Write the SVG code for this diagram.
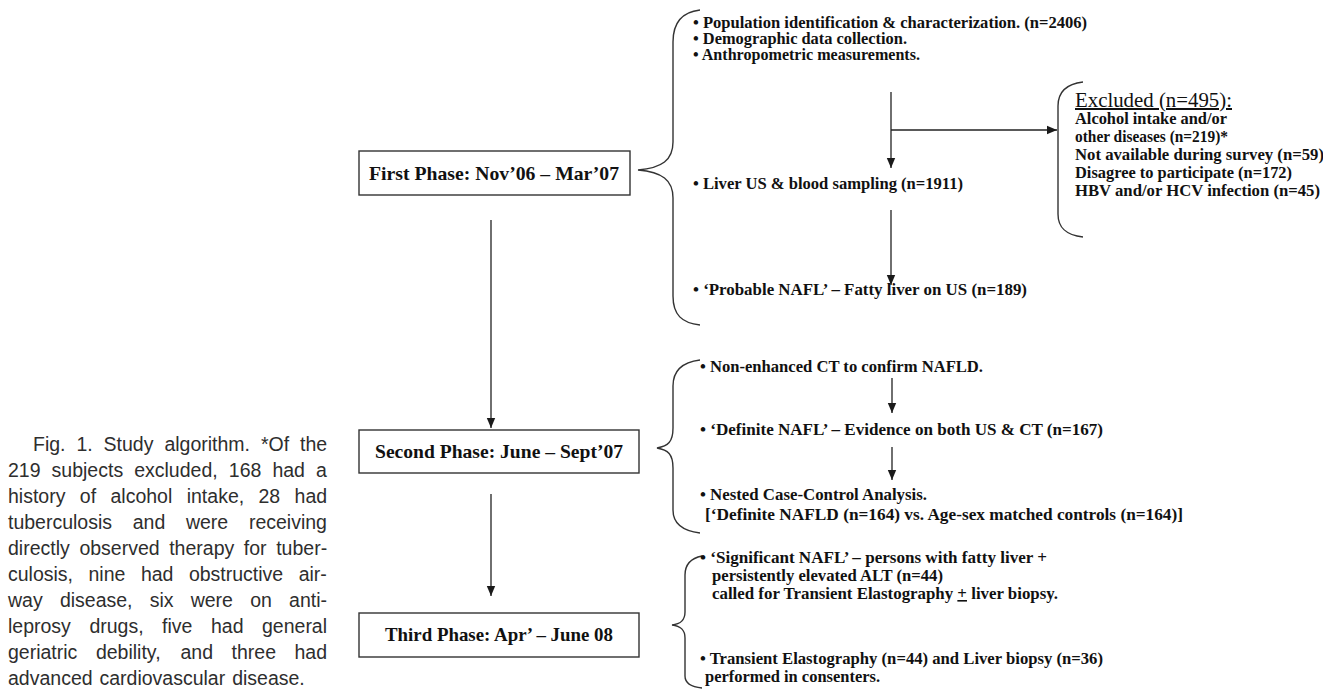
<svg xmlns="http://www.w3.org/2000/svg" width="1323" height="691" viewBox="0 0 1323 691">
<defs>
<marker id="ah" markerUnits="userSpaceOnUse" markerWidth="10" markerHeight="10" refX="10" refY="5" orient="auto">
<path d="M0,0.8 L10,5 L0,9.2 Z" fill="#1a1a1a"/>
</marker>
<style>
.bx{fill:#fff;stroke:#333;stroke-width:1.4}
.bt{font-family:"Liberation Serif",serif;font-weight:bold;font-size:19px;fill:#111;text-anchor:middle}
.t{font-family:"Liberation Serif",serif;font-weight:bold;font-size:16px;fill:#111}
.ex{font-family:"Liberation Serif",serif;font-size:20px;fill:#111;text-decoration:underline}
.br{fill:none;stroke:#333;stroke-width:1.4}
.ln{fill:none;stroke:#222;stroke-width:1.3}
.cap{font-family:"Liberation Sans",sans-serif;font-size:19.5px;fill:#2e2e2e}
</style>
</defs>
<rect width="1323" height="691" fill="#fff"/>

<g id="caption">
<text class="cap" y="451"><tspan x="33">Fig.</tspan><tspan x="76.4">1.</tspan><tspan x="103.6">Study</tspan><tspan x="164.4">algorithm.</tspan><tspan x="260.9">*Of</tspan><tspan x="300">the</tspan></text>
<text class="cap" y="477"><tspan x="8">219</tspan><tspan x="51.6">subjects</tspan><tspan x="134.2">excluded,</tspan><tspan x="228.8">168</tspan><tspan x="272.4">had</tspan><tspan x="316">a</tspan></text>
<text class="cap" y="503"><tspan x="8">history</tspan><tspan x="79.8">of</tspan><tspan x="110.5">alcohol</tspan><tspan x="186.7">intake,</tspan><tspan x="258.5">28</tspan><tspan x="294.6">had</tspan></text>
<text class="cap" y="529"><tspan x="8">tuberculosis</tspan><tspan x="132.7">and</tspan><tspan x="185.9">were</tspan><tspan x="248.9">receiving</tspan></text>
<text class="cap" y="555"><tspan x="8">directly</tspan><tspan x="79.4">observed</tspan><tspan x="169.2">therapy</tspan><tspan x="243.8">for</tspan><tspan x="276.2">tuber-</tspan></text>
<text class="cap" y="581"><tspan x="8">culosis,</tspan><tspan x="88.5">nine</tspan><tspan x="140.9">had</tspan><tspan x="188.9">obstructive</tspan><tspan x="298.7">air-</tspan></text>
<text class="cap" y="607"><tspan x="8">way</tspan><tspan x="59.9">disease,</tspan><tspan x="149.7">six</tspan><tspan x="190.7">were</tspan><tspan x="250.2">on</tspan><tspan x="289.1">anti-</tspan></text>
<text class="cap" y="633"><tspan x="8">leprosy</tspan><tspan x="89.4">drugs,</tspan><tspan x="162.1">five</tspan><tspan x="211">had</tspan><tspan x="262">general</tspan></text>
<text class="cap" y="659"><tspan x="8">geriatric</tspan><tspan x="95.9">debility,</tspan><tspan x="180.5">and</tspan><tspan x="231.6">three</tspan><tspan x="294.5">had</tspan></text>
<text class="cap" x="8" y="685" word-spacing="1.5">advanced cardiovascular disease.</text>
</g>

<g id="phase1">
<rect class="bx" x="359" y="151" width="271" height="44"/>
<text class="bt" x="494" y="180" textLength="250" lengthAdjust="spacingAndGlyphs">First Phase: Nov’06 – Mar’07</text>
</g>
<g id="phase2">
<rect class="bx" x="359" y="430" width="280" height="43"/>
<text class="bt" x="499" y="458" textLength="248" lengthAdjust="spacingAndGlyphs">Second Phase: June – Sept’07</text>
</g>
<g id="phase3">
<rect class="bx" x="359" y="613" width="280" height="44"/>
<text class="bt" x="499" y="641" textLength="228" lengthAdjust="spacingAndGlyphs">Third Phase: Apr’ – June 08</text>
</g>

<g id="phase1-details">
<path class="br" d="M700,10 C682,12 673,22 673,42 L673,142 C673,160 662,168 638,170 C662,172 673,180 673,198 L673,296 C673,315 682,323 700,325"/>
<text class="t" x="693" y="28" textLength="394" lengthAdjust="spacingAndGlyphs">• Population identification &amp; characterization. (n=2406)</text>
<text class="t" x="693" y="44" textLength="214" lengthAdjust="spacingAndGlyphs">• Demographic data collection.</text>
<text class="t" x="693" y="60" textLength="227" lengthAdjust="spacingAndGlyphs">• Anthropometric measurements.</text>
<text class="t" x="693" y="189" textLength="270" lengthAdjust="spacingAndGlyphs">• Liver US &amp; blood sampling (n=1911)</text>
<text class="t" x="693" y="295" textLength="334" lengthAdjust="spacingAndGlyphs">• ‘Probable NAFL’ – Fatty liver on US (n=189)</text>
</g>

<g id="excluded">
<path class="br" d="M1083,82 C1066,84 1058,92 1058,106 L1058,214 C1058,228 1066,235 1083,237"/>
<text class="ex" x="1075" y="107" textLength="157" lengthAdjust="spacingAndGlyphs">Excluded (n=495):</text>
<text class="t" x="1075" y="124" textLength="152" lengthAdjust="spacingAndGlyphs">Alcohol intake and/or</text>
<text class="t" x="1075" y="142" textLength="153" lengthAdjust="spacingAndGlyphs">other diseases (n=219)*</text>
<text class="t" x="1075" y="160" textLength="249" lengthAdjust="spacingAndGlyphs">Not available during survey (n=59)</text>
<text class="t" x="1075" y="178" textLength="217" lengthAdjust="spacingAndGlyphs">Disagree to participate (n=172)</text>
<text class="t" x="1075" y="196" textLength="245" lengthAdjust="spacingAndGlyphs">HBV and/or HCV infection (n=45)</text>
</g>

<g id="phase2-details">
<path class="br" d="M700,360 C684,362 673,370 673,386 L673,428 C673,442 668,446 657,448 C668,450 673,454 673,468 L673,510 C673,524 684,531 700,533"/>
<text class="t" x="700" y="372" textLength="283" lengthAdjust="spacingAndGlyphs">• Non-enhanced CT to confirm NAFLD.</text>
<text class="t" x="700" y="435" textLength="403" lengthAdjust="spacingAndGlyphs">• ‘Definite NAFL’ – Evidence on both US &amp; CT (n=167)</text>
<text class="t" x="700" y="500" textLength="227" lengthAdjust="spacingAndGlyphs">• Nested Case-Control Analysis.</text>
<text class="t" x="705" y="520" textLength="478" lengthAdjust="spacingAndGlyphs">[‘Definite NAFLD (n=164) vs. Age-sex matched controls (n=164)]</text>
</g>

<g id="phase3-details">
<path class="br" d="M702,556 C692,558 685,564 685,575 L685,612 C685,621 680,624 672,625 C680,626 685,629 685,638 L685,676 C685,684 692,687 702,688"/>
<text class="t" x="700" y="563" textLength="347" lengthAdjust="spacingAndGlyphs">• ‘Significant NAFL’ – persons with fatty liver +</text>
<text class="t" x="712" y="581" textLength="231" lengthAdjust="spacingAndGlyphs">persistently elevated ALT (n=44)</text>
<text class="t" x="712" y="599" textLength="346" lengthAdjust="spacingAndGlyphs">called for Transient Elastography <tspan text-decoration="underline">+</tspan> liver biopsy.</text>
<text class="t" x="700" y="664" textLength="403" lengthAdjust="spacingAndGlyphs">• Transient Elastography (n=44) and Liver biopsy (n=36)</text>
<text class="t" x="705" y="682" textLength="175" lengthAdjust="spacingAndGlyphs">performed in consenters.</text>
</g>

<g id="connectors">
<line class="ln" x1="491" y1="220" x2="491" y2="428" marker-end="url(#ah)"/>
<line class="ln" x1="491" y1="494" x2="491" y2="596" marker-end="url(#ah)"/>
<line class="ln" x1="891" y1="92" x2="891" y2="168" marker-end="url(#ah)"/>
<line class="ln" x1="891" y1="130" x2="1057" y2="130" marker-end="url(#ah)"/>
<line class="ln" x1="891" y1="210" x2="891" y2="285" marker-end="url(#ah)"/>
<line class="ln" x1="892" y1="378" x2="892" y2="413" marker-end="url(#ah)"/>
<line class="ln" x1="892" y1="447" x2="892" y2="480" marker-end="url(#ah)"/>
</g>
</svg>
